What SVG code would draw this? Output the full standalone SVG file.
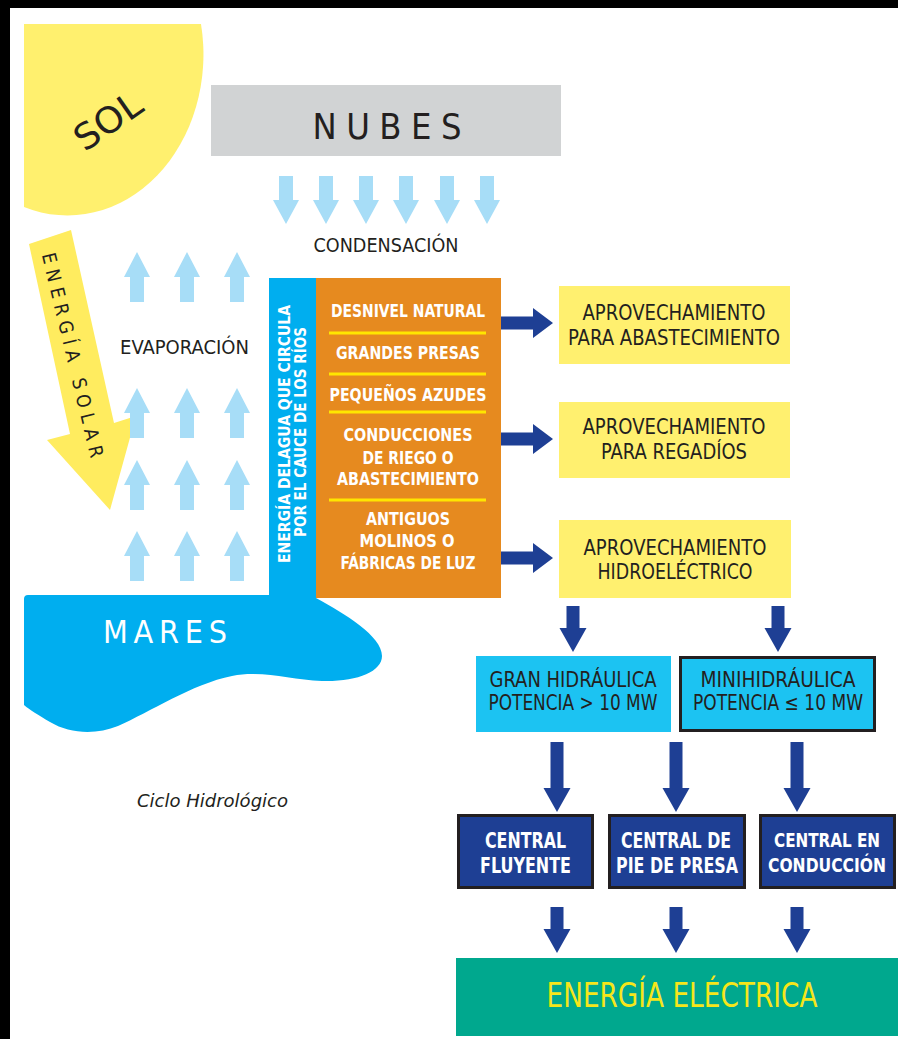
<svg xmlns="http://www.w3.org/2000/svg" width="898" height="1039" viewBox="0 0 898 1039">
<defs>
<style>
.t{font-family:"DejaVu Sans Condensed","DejaVu Sans","Liberation Sans",sans-serif;font-stretch:condensed;dominant-baseline:central;text-anchor:middle}
.dk{fill:#231f20}
.wh{fill:#ffffff}
.b{font-weight:bold}
.la{fill:#a7ddf7}
.da{fill:#1e3f94}
.ybox{fill:#fff06f}
.cbox{fill:#1e3f94;stroke:#231f20;stroke-width:3}
.sep{stroke:#ffe600;stroke-width:3}
</style>
<path id="cdn" d="M-7,0H7V24H13L0,48L-13,24H-7Z"/>
<path id="evp" d="M0,0L13,25H7V50H-7V25H-13Z"/>
<path id="rar" d="M0,-6.5H32V-15L52,0L32,15V6.5H0Z"/>
<path id="dA" d="M-6.5,0H6.5V22H13.5L0,46L-13.5,22H-6.5Z"/>
<path id="dB" d="M-6.5,0H6.5V46H13.5L0,70L-13.5,46H-6.5Z"/>
</defs>
<rect x="0" y="0" width="898" height="1039" fill="#000"/>
<rect x="10" y="8" width="888" height="1031" fill="#fff"/>

<g id="sol">
<path d="M24,24 H201 A136,161 0 0 1 24,207 Z" fill="#fff06e"/>
<text class="t dk" font-size="36" textLength="74" lengthAdjust="spacingAndGlyphs" transform="translate(108,121) rotate(-35)">SOL</text>
</g>

<g id="energia-solar">
<polygon points="29,244 71,230 114,423 136,416 110,510 47,440 70,434" fill="#ffec5f"/>
<text class="t dk" font-size="19" textLength="210" lengthAdjust="spacing" transform="translate(73,355) rotate(76.5)">ENERGÍA SOLAR</text>
</g>

<g id="nubes">
<rect x="211" y="85" width="350" height="71" fill="#d1d3d4"/>
<text class="t dk" x="387" y="126" font-size="36" textLength="149" lengthAdjust="spacing">NUBES</text>
</g>

<g id="condensacion">
<text class="t dk" x="386" y="245" font-size="19" textLength="145" lengthAdjust="spacingAndGlyphs">CONDENSACIÓN</text>
</g>

<g id="evaporacion">
<text class="t dk" x="184.5" y="347" font-size="19" textLength="129" lengthAdjust="spacingAndGlyphs">EVAPORACIÓN</text>
</g>

<g id="mares">
<path d="M24,599 Q24,595 28,595 H269 V598 H316 C345,614 382,636 382,656 C382,672 356,682 322,681 C290,680 262,670 232,676 C192,684 150,712 118,726 C96,735 70,734 50,722 C38,715 30,710 24,705 Z" fill="#00aeef"/>
<text class="t wh" x="165" y="632" font-size="32" textLength="124" lengthAdjust="spacing">MARES</text>
</g>

<g id="energia-agua">
<rect x="269" y="278" width="47" height="322" fill="#00aeef"/>
<text class="t wh b" font-size="15" textLength="258" lengthAdjust="spacingAndGlyphs" transform="translate(285,434) rotate(-90)">ENERGÍA DELAGUA QUE CIRCULA</text>
<text class="t wh b" font-size="15" textLength="210" lengthAdjust="spacingAndGlyphs" transform="translate(301,432) rotate(-90)">POR EL CAUCE DE LOS RÍOS</text>
</g>

<g id="tipos">
<rect x="316" y="278" width="185" height="320" fill="#e68a1f"/>
<line class="sep" x1="329" y1="333" x2="486" y2="333"/>
<line class="sep" x1="329" y1="374" x2="486" y2="374"/>
<line class="sep" x1="329" y1="412" x2="486" y2="412"/>
<line class="sep" x1="329" y1="500" x2="486" y2="500"/>
<g class="t wh b" font-size="18">
<text x="408" y="310" textLength="154" lengthAdjust="spacingAndGlyphs">DESNIVEL NATURAL</text>
<text x="408" y="352" textLength="144" lengthAdjust="spacingAndGlyphs">GRANDES PRESAS</text>
<text x="408" y="394" textLength="157" lengthAdjust="spacingAndGlyphs">PEQUEÑOS AZUDES</text>
<text x="408" y="434" textLength="129" lengthAdjust="spacingAndGlyphs">CONDUCCIONES</text>
<text x="408" y="457" textLength="91" lengthAdjust="spacingAndGlyphs">DE RIEGO O</text>
<text x="408" y="478" textLength="142" lengthAdjust="spacingAndGlyphs">ABASTECIMIENTO</text>
<text x="408" y="518" textLength="84" lengthAdjust="spacingAndGlyphs">ANTIGUOS</text>
<text x="407" y="540" textLength="95" lengthAdjust="spacingAndGlyphs">MOLINOS O</text>
<text x="408" y="562" textLength="135" lengthAdjust="spacingAndGlyphs">FÁBRICAS DE LUZ</text>
</g>
</g>

<g id="abastecimiento">
<rect class="ybox" x="559" y="286" width="231" height="78"/>
<text class="t dk" x="674" y="313" font-size="21" textLength="183" lengthAdjust="spacingAndGlyphs">APROVECHAMIENTO</text>
<text class="t dk" x="674" y="338" font-size="21" textLength="212" lengthAdjust="spacingAndGlyphs">PARA ABASTECIMIENTO</text>
</g>
<g id="regadios">
<rect class="ybox" x="559" y="402" width="231" height="76"/>
<text class="t dk" x="674" y="427" font-size="21" textLength="183" lengthAdjust="spacingAndGlyphs">APROVECHAMIENTO</text>
<text class="t dk" x="674" y="452" font-size="21" textLength="146" lengthAdjust="spacingAndGlyphs">PARA REGADÍOS</text>
</g>
<g id="hidroelectrico">
<rect class="ybox" x="559" y="520" width="232" height="78"/>
<text class="t dk" x="675" y="548" font-size="21" textLength="183" lengthAdjust="spacingAndGlyphs">APROVECHAMIENTO</text>
<text class="t dk" x="675" y="572" font-size="21" textLength="155" lengthAdjust="spacingAndGlyphs">HIDROELÉCTRICO</text>
</g>

<g id="gran-hidraulica">
<rect x="476" y="656" width="195" height="76" fill="#1cc3f2"/>
<text class="t dk" x="573" y="680" font-size="21" textLength="167" lengthAdjust="spacingAndGlyphs">GRAN HIDRÁULICA</text>
<text class="t dk" x="573" y="703" font-size="21" textLength="169" lengthAdjust="spacingAndGlyphs">POTENCIA &gt; 10 MW</text>
</g>
<g id="minihidraulica">
<rect x="680.5" y="657.5" width="194" height="73" fill="#1cc3f2" stroke="#231f20" stroke-width="3"/>
<text class="t dk" x="778" y="680" font-size="21" textLength="155" lengthAdjust="spacingAndGlyphs">MINIHIDRÁULICA</text>
<text class="t dk" x="778" y="703" font-size="21" textLength="170" lengthAdjust="spacingAndGlyphs">POTENCIA ≤ 10 MW</text>
</g>

<g id="fluyente">
<rect class="cbox" x="458.5" y="815.5" width="134" height="72"/>
<text class="t wh b" x="525.5" y="840" font-size="22" textLength="81" lengthAdjust="spacingAndGlyphs">CENTRAL</text>
<text class="t wh b" x="525.5" y="865" font-size="22" textLength="91" lengthAdjust="spacingAndGlyphs">FLUYENTE</text>
</g>
<g id="pie-de-presa">
<rect class="cbox" x="609.5" y="815.5" width="135" height="72"/>
<text class="t wh b" x="676" y="840" font-size="22" textLength="110" lengthAdjust="spacingAndGlyphs">CENTRAL DE</text>
<text class="t wh b" x="677" y="865" font-size="22" textLength="122" lengthAdjust="spacingAndGlyphs">PIE DE PRESA</text>
</g>
<g id="conduccion">
<rect class="cbox" x="760.5" y="815.5" width="134" height="72"/>
<text class="t wh b" x="827" y="840" font-size="19" textLength="106" lengthAdjust="spacingAndGlyphs">CENTRAL EN</text>
<text class="t wh b" x="827" y="865" font-size="19" textLength="118" lengthAdjust="spacingAndGlyphs">CONDUCCIÓN</text>
</g>

<g id="energia-electrica">
<rect x="456" y="958" width="442" height="78" fill="#00a88e"/>
<text class="t" x="682" y="995" font-size="33" fill="#f6e61a" textLength="271" lengthAdjust="spacingAndGlyphs">ENERGÍA ELÉCTRICA</text>
</g>

<g id="ciclo">
<text class="t dk" x="212.5" y="800" font-size="18" font-style="italic" textLength="151" lengthAdjust="spacingAndGlyphs">Ciclo Hidrológico</text>
</g>

<g id="connectors">
<g class="la">
<use href="#cdn" x="286" y="176"/>
<use href="#cdn" x="326" y="176"/>
<use href="#cdn" x="366" y="176"/>
<use href="#cdn" x="406" y="176"/>
<use href="#cdn" x="447" y="176"/>
<use href="#cdn" x="487" y="176"/>
<use href="#evp" x="137" y="252"/>
<use href="#evp" x="187" y="252"/>
<use href="#evp" x="237" y="252"/>
<use href="#evp" x="137" y="388"/>
<use href="#evp" x="187" y="388"/>
<use href="#evp" x="237" y="388"/>
<use href="#evp" x="137" y="460"/>
<use href="#evp" x="187" y="460"/>
<use href="#evp" x="237" y="460"/>
<use href="#evp" x="137" y="531"/>
<use href="#evp" x="187" y="531"/>
<use href="#evp" x="237" y="531"/>
</g>
<g class="da">
<use href="#rar" x="501" y="323"/>
<use href="#rar" x="501" y="439"/>
<use href="#rar" x="501" y="558"/>
<use href="#dA" x="573" y="606"/>
<use href="#dA" x="778" y="606"/>
<use href="#dB" x="557" y="742"/>
<use href="#dB" x="676" y="742"/>
<use href="#dB" x="797" y="742"/>
<use href="#dA" x="557" y="907"/>
<use href="#dA" x="676" y="907"/>
<use href="#dA" x="797" y="907"/>
</g>
</g>
</svg>
